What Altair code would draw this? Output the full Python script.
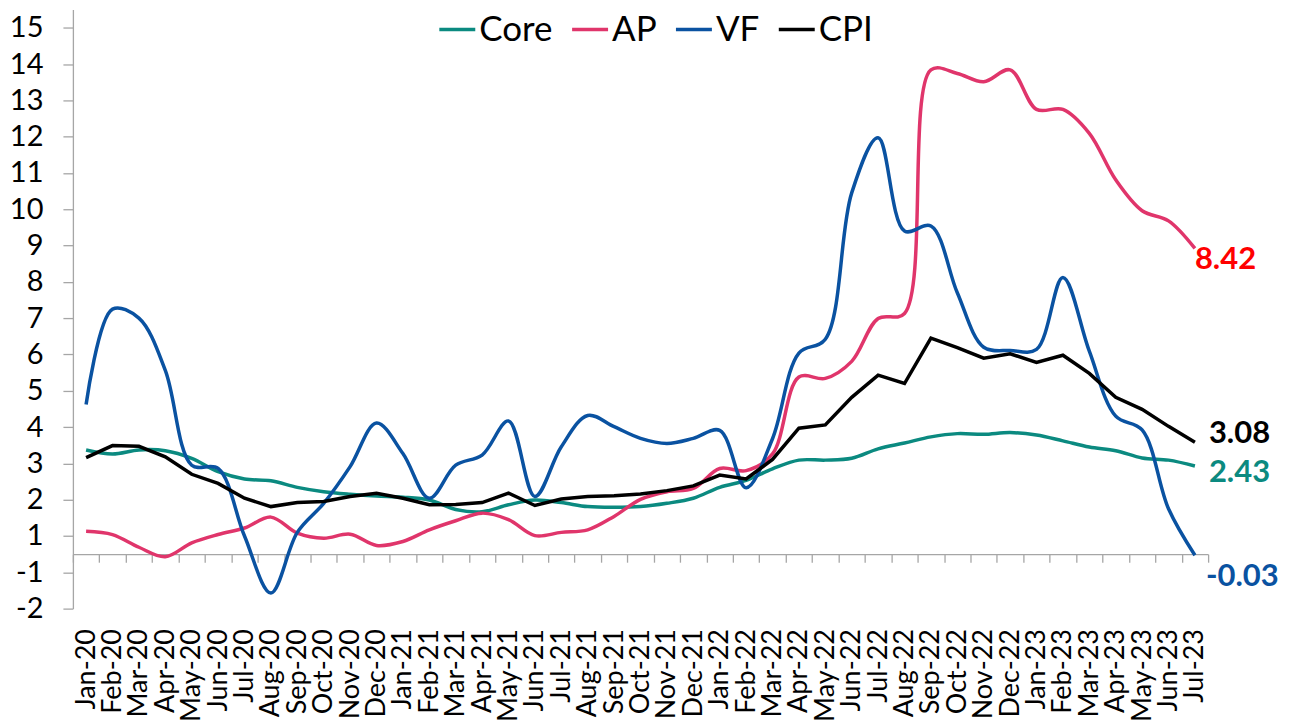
import altair as alt
import pandas as pd

months = ["Jan-20", "Feb-20", "Mar-20", "Apr-20", "May-20", "Jun-20", "Jul-20", "Aug-20",
          "Sep-20", "Oct-20", "Nov-20", "Dec-20", "Jan-21", "Feb-21", "Mar-21", "Apr-21",
          "May-21", "Jun-21", "Jul-21", "Aug-21", "Sep-21", "Oct-21", "Nov-21", "Dec-21",
          "Jan-22", "Feb-22", "Mar-22", "Apr-22", "May-22", "Jun-22", "Jul-22", "Aug-22",
          "Sep-22", "Oct-22", "Nov-22", "Dec-22", "Jan-23", "Feb-23", "Mar-23", "Apr-23",
          "May-23", "Jun-23", "Jul-23"]

core = [2.87, 2.76, 2.87, 2.85, 2.64, 2.27, 2.07, 2.02, 1.84, 1.72, 1.65, 1.60, 1.57, 1.49,
        1.23, 1.17, 1.36, 1.49, 1.42, 1.31, 1.29, 1.31, 1.40, 1.54, 1.84, 2.03, 2.35, 2.59,
        2.59, 2.64, 2.90, 3.06, 3.23, 3.32, 3.30, 3.35, 3.28, 3.12, 2.95, 2.85, 2.65, 2.59, 2.43]

ap = [0.63, 0.54, 0.19, -0.07, 0.31, 0.54, 0.72, 1.02, 0.58, 0.44, 0.55, 0.24, 0.35, 0.67,
      0.92, 1.13, 0.95, 0.51, 0.60, 0.67, 1.04, 1.51, 1.72, 1.81, 2.36, 2.30, 2.76, 4.88,
      4.84, 5.31, 6.49, 6.63, 13.34, 13.24, 13.01, 13.34, 12.25, 12.25, 11.59, 10.31, 9.46,
      9.18, 8.42]

vf = [4.12, 6.75, 6.50, 5.06, 2.45, 2.36, 0.50, -1.07, 0.60, 1.40, 2.41, 3.61, 2.77, 1.54,
      2.45, 2.73, 3.67, 1.59, 2.96, 3.82, 3.51, 3.19, 3.05, 3.19, 3.41, 1.83, 3.18, 5.54,
      5.92, 9.95, 11.47, 8.90, 9.04, 7.20, 5.70, 5.61, 5.64, 7.62, 5.59, 3.80, 3.42, 1.25,
      -0.03]

cpi = [2.66, 2.99, 2.97, 2.68, 2.20, 1.95, 1.54, 1.31, 1.42, 1.45, 1.59, 1.68, 1.54, 1.36,
       1.37, 1.42, 1.68, 1.34, 1.52, 1.59, 1.61, 1.66, 1.75, 1.88, 2.18, 2.07, 2.61, 3.47,
       3.56, 4.32, 4.93, 4.70, 5.95, 5.69, 5.40, 5.52, 5.28, 5.48, 4.98, 4.32, 3.99, 3.52,
       3.08]

series_names = ["Core", "AP", "VF", "CPI"]
series_colors = ["#0B8A80", "#E0356B", "#0A52A1", "#000000"]
end_label_colors = ["#0B8A80", "#FF0000", "#0A52A1", "#000000"]

# printed y-axis labels (the "0" label is absent in the original)
y_labels = [-2, -1, 1, 2, 3, 4, 5, 6, 7, 8, 9, 10, 11, 12, 13, 14, 15]

FONT = "Lato"
GREY = "#A6A6A6"

rows = []
for name, vals in zip(series_names, [core, ap, vf, cpi]):
    for i, (m, v) in enumerate(zip(months, vals)):
        rows.append({"idx": i, "month": m, "series": name, "value": v,
                     "label": str(v)})
df = pd.DataFrame(rows)

n = len(months)
x_scale = alt.Scale(domain=[-0.5, n - 0.5], nice=False, zero=False)
y_scale = alt.Scale(domain=[-1.5, 15], nice=False, zero=False)

y_tick_pos = [lab - 0.5 if lab > 0 else lab + 0.5 for lab in y_labels]
y_axis = alt.Axis(values=y_tick_pos,
                  labelExpr="datum.value > 0 ? datum.value + 0.5 : datum.value - 0.5",
                  grid=False, domainColor=GREY, tickColor=GREY, tickSize=10,
                  domainWidth=1.3, tickWidth=1.3,
                  labelFontSize=29, labelFont=FONT, labelColor="black", labelPadding=20,
                  title=None)
y_enc = alt.Y("value:Q", scale=y_scale, axis=y_axis)

month_array = "[" + ",".join("'" + m + "'" for m in months) + "]"
label_axis = alt.Axis(values=list(range(n)), labelExpr=month_array + "[datum.value]",
                      orient="bottom", domain=False, ticks=False, tickSize=0, grid=False,
                      labelAngle=270, labelPadding=20, labelFontSize=27, labelFont=FONT,
                      labelColor="black", labelOverlap=False, labelFlush=False,
                      labelBound=False, title=None)
tick_axis = alt.Axis(values=[k - 0.5 for k in range(n + 1)], orient="bottom",
                     labels=False, domain=True, ticks=True, tickSize=8, grid=False,
                     domainColor=GREY, tickColor=GREY, domainWidth=1.3, tickWidth=1.3,
                     offset=-54.5, title=None)

color_scale = alt.Scale(domain=series_names, range=series_colors)
legend = alt.Legend(orient="none", legendX=365, legendY=0, direction="horizontal",
                    title=None, symbolType="stroke", symbolSize=1296,
                    symbolStrokeWidth=3.5, labelFontSize=35, labelFont=FONT,
                    labelColor="black", columnPadding=12, labelOffset=2, padding=0,
                    labelLimit=300)

base = alt.Chart(df)


def line_layer(name, interp, axis):
    return base.transform_filter(alt.datum.series == name).mark_line(
        interpolate=interp, strokeWidth=3.5
    ).encode(
        x=alt.X("idx:Q", scale=x_scale, axis=axis),
        y=y_enc,
        color=alt.Color("series:N", scale=color_scale, legend=legend),
    )


def end_label(name, color, dx, dy):
    return base.transform_filter(
        (alt.datum.series == name) & (alt.datum.idx == n - 1)
    ).mark_text(align="left", baseline="middle", dx=dx, dy=dy, fontSize=31,
                fontWeight="bold", font=FONT, color=color).encode(
        x=alt.X("idx:Q", scale=x_scale, axis=None),
        y=y_enc,
        text="label:N",
    )


layers = [
    line_layer("Core", "catmull-rom", label_axis),
    line_layer("AP", "catmull-rom", None),
    line_layer("VF", "catmull-rom", None),
    line_layer("CPI", "linear", tick_axis),
    end_label("AP", end_label_colors[1], 0, 12),
    end_label("CPI", end_label_colors[3], 14, -8),
    end_label("Core", end_label_colors[0], 14, 7),
    end_label("VF", end_label_colors[2], 11, 22),
]

chart = alt.layer(*layers).resolve_axis(x="independent").properties(
    width=1137, height=600,
    padding={"left": 65, "top": 1, "right": 75, "bottom": 115},
    autosize=alt.AutoSizeParams(type="none"),
    background="white",
).configure_view(stroke=None)

chart.save("out.html", embed_options={"renderer": "svg", "actions": False})
